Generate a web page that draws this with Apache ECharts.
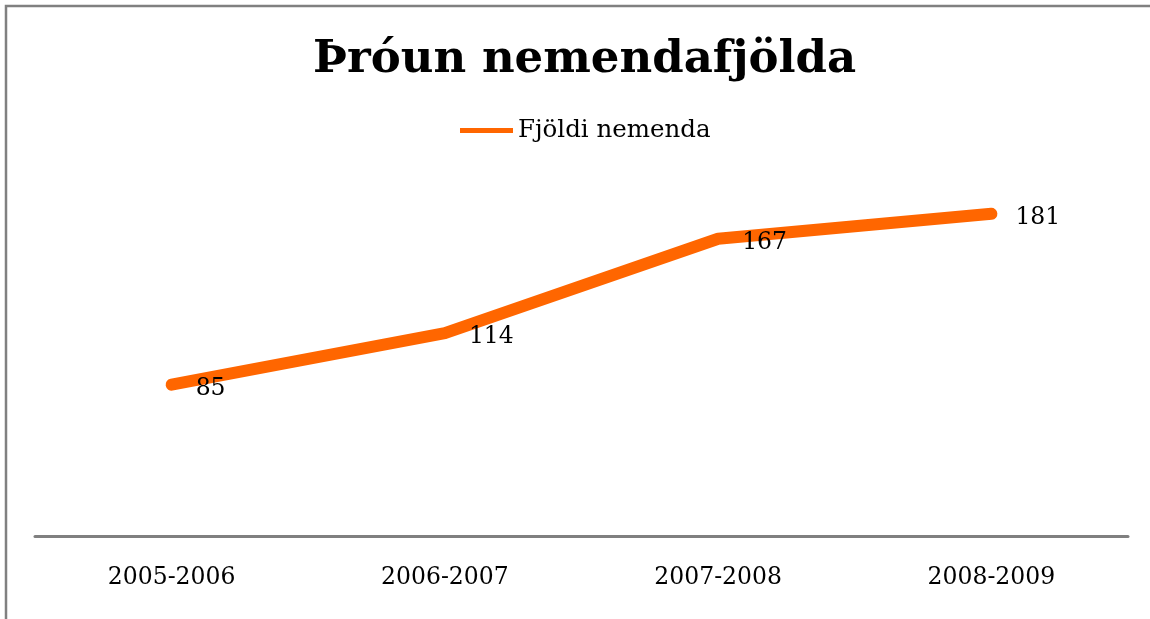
<!DOCTYPE html>
<html><head><meta charset="utf-8">
<script src="https://cdn.jsdelivr.net/npm/echarts@6/dist/echarts.min.js"></script>
<style>html,body{margin:0;padding:0;background:#fff}#c{width:1150px;height:619px}</style>
</head><body><div id="c"></div>
<script>
var titleText = 'Þróun nemendafjölda';
var seriesName = 'Fjöldi nemenda';
var categories = ['2005-2006', '2006-2007', '2007-2008', '2008-2009'];
var values = [85, 114, 167, 181];

var FONT = '"DejaVu Serif", "Liberation Serif", serif';
var chart = echarts.init(document.getElementById('c'));
chart.setOption({
  animation: false,
  backgroundColor: '#fff',
  graphic: [{
    type: 'rect', shape: { x: 6, y: 6, width: 1300, height: 800 },
    style: { fill: 'none', stroke: '#808080', lineWidth: 2.5 }, silent: true
  }],
  title: {
    text: titleText, left: 308, top: 33,
    textStyle: { fontFamily: FONT, fontWeight: 'bold', fontSize: 45, color: '#000' }
  },
  legend: {
    top: 113, left: 455, itemWidth: 53, itemHeight: 12, itemGap: 6,
    textStyle: { fontFamily: FONT, fontSize: 24.5, color: '#000' },
    data: [{ name: seriesName, icon: 'path://M0,3.5 L53,3.5 L53,8.5 L0,8.5 Z', itemStyle: { color: '#FF6600' } }]
  },
  grid: { left: 35, right: 22, top: 180, bottom: 83, containLabel: false },
  xAxis: {
    type: 'category', data: categories, boundaryGap: true,
    axisLine: { lineStyle: { color: '#808080', width: 3 } },
    axisTick: { show: false },
    axisLabel: { fontFamily: FONT, fontSize: 23.5, color: '#000', margin: 30 }
  },
  yAxis: {
    type: 'value', min: 0, max: 200, show: false,
    splitLine: { show: false }
  },
  series: [{
    name: seriesName, type: 'line', data: values,
    showSymbol: true, symbol: 'circle', symbolSize: 2,
    lineStyle: { color: '#FF6600', width: 12, cap: 'round', join: 'round' },
    itemStyle: { color: '#FF6600' },
    label: {
      show: true, position: 'right', distance: 23, offset: [0, 4],
      fontFamily: FONT, fontSize: 23.5, color: '#000'
    }
  }]
});
</script></body></html>
